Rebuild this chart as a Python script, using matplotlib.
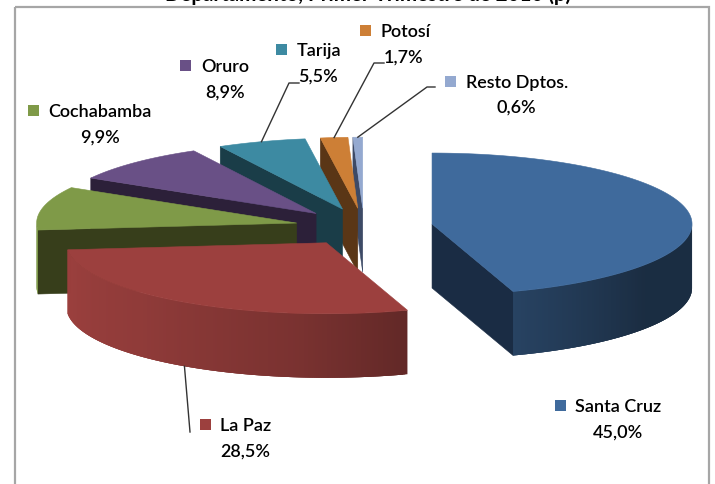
#!/usr/bin/env python3
# -*- coding: utf-8 -*-
import numpy as np
import matplotlib
matplotlib.use("Agg")
import matplotlib.pyplot as plt
from matplotlib.patches import Polygon, Rectangle

plt.rcParams['font.family'] = ['Lato', 'DejaVu Sans']

# || Data
names = ["Santa Cruz", "La Paz", "Cochabamba", "Oruro", "Tarija", "Potosí", "Resto Dptos."]
values = [45.0, 28.5, 9.9, 8.9, 5.5, 1.7, 0.6]
top_colors = ["#3f6a9c", "#9c403e", "#7f9a48", "#695086", "#3d8aa2", "#cd7f36", "#94a9d0"]
wall_colors = ["#1a2c44", "#5d2623", "#373e1b", "#2c2039", "#1a3d48", "#5a3616", "#3d4a66"]
title_text = "Departamento, Primer Trimestre de 2010 (p)"

# || Layout, in pixels of the 715x485 picture
W, H = 715, 485
cx, cy = 364, 228       # pie centre before the explosion
rx, ry = 260, 71        # ellipse of the top face
depth = 64
explode = 0.265
# square x, name x, name y, value x, value y
label_pos = [(555, 575, 407, 618, 433),
             (200, 220, 426, 245, 452),
             (28, 48, 112, 100, 138),
             (180, 201, 67, 225, 93),
             (276, 297, 51, 318, 77),
             (360, 381, 32, 404, 58),
             (445, 466, 83, 516, 108)]
# elbow and end of the leader lines, by slice
leaders = {1: [(190, 433)],
           4: [(289, 84), (299, 84)],
           5: [(374, 64), (384, 64)],
           6: [(427, 88), (435, 88)]}
# painter's order, back slices first
draw_order = [6, 5, 4, 3, 2, 0, 1]


def shade(t):
    # brightness of the outer wall against the top colour
    return np.interp(t, [90, 125, 162, 186, 225, 265], [0.42, 0.42, 0.63, 0.78, 0.92, 1.0])


def edge(ox, oy, t):
    a = np.radians(t)
    return ox + rx * np.sin(a), oy - ry * np.cos(a)


fig = plt.figure(figsize=(W / 100, H / 100), dpi=100)
ax = fig.add_axes([0, 0, 1, 1])
ax.set_xlim(0, W)
ax.set_ylim(H, 0)
ax.axis("off")

# || Frame and clipped title
ax.add_patch(Rectangle((15, 8), 694, 490, fill=False, ec="#a6a6a6", lw=1.6, zorder=1))
ax.text(368, 1, title_text, ha="center", va="baseline", fontsize=14.8, fontweight="bold", color="black", zorder=0)

# || Slices
bounds = np.concatenate([[0], np.cumsum(values)]) / np.sum(values) * 360
z = 2
arc_tops = {}
for i in draw_order:
    t0, t1 = bounds[i], bounds[i + 1]
    mid = (t0 + t1) / 2
    a = np.radians(mid)
    ox = cx + explode * rx * np.sin(a)
    oy = cy - explode * ry * np.cos(a)
    arc_tops[i] = (ox, oy, mid)

    # flat side walls
    for t, seen in ((t0, 180 < t0 < 360), (t1, 0 < t1 < 180)):
        if seen:
            ex, ey = edge(ox, oy, t)
            ax.add_patch(Polygon([(ox, oy), (ex, ey), (ex, ey + depth), (ox, oy + depth)],
                                 closed=True, fc=wall_colors[i], ec=wall_colors[i], lw=0.4, zorder=z))
            z += 1

    # curved outer wall, in strips that overlap the next one so no seams show
    lo, hi = max(t0, 90), min(t1, 270)
    if hi > lo:
        ts = np.linspace(lo, hi, int((hi - lo) * 2) + 2)
        base = np.array(matplotlib.colors.to_rgb(top_colors[i]))
        for k in range(len(ts) - 1):
            arc = ts[k:k + 4]
            xs, ys = edge(ox, oy, arc)
            pts = np.vstack([np.column_stack([xs, ys]), np.column_stack([xs, ys + depth])[::-1]])
            c = base * shade((ts[k] + ts[k + 1]) / 2)
            ax.add_patch(Polygon(pts, closed=True, fc=c, ec="none", zorder=z))
            z += 0.001
        z += 1

    # top face
    ts = np.linspace(t0, t1, 200)
    xs, ys = edge(ox, oy, ts)
    ax.add_patch(Polygon(np.vstack([[ox, oy], np.column_stack([xs, ys])]), closed=True,
                         fc=top_colors[i], ec=top_colors[i], lw=0.4, zorder=z))
    z += 1

# || Leader lines
for i, pts in leaders.items():
    ox, oy, mid = arc_tops[i]
    sx, sy = edge(ox, oy, mid)
    if 90 < mid < 270:
        sy += depth
    path = [(sx, sy)] + pts
    ax.plot([p[0] for p in path], [p[1] for p in path], color="#333333", lw=1.0, zorder=z)

# || Labels
for i, (sq, nx, ny, vx, vy) in enumerate(label_pos):
    ax.add_patch(Rectangle((sq, ny - 6), 11, 11, fc=top_colors[i], ec="none", zorder=z))
    ax.text(nx, ny, names[i], ha="left", va="center", fontsize=13, fontweight="semibold", color="black", zorder=z)
    ax.text(vx, vy, f"{values[i]:.1f}%".replace(".", ","), ha="center", va="center",
            fontsize=13, fontweight="semibold", color="black", zorder=z)

fig.savefig("out.png", dpi=100, facecolor="white")
